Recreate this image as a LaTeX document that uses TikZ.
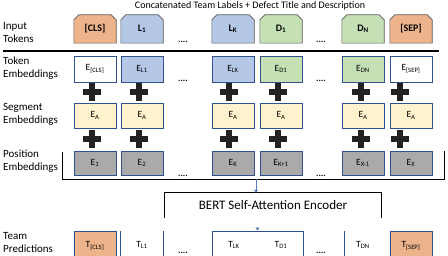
\documentclass[tikz,border=0pt]{standalone}
\usepackage{fontspec}
\setmainfont{Carlito}
\usetikzlibrary{backgrounds,arrows.meta}
\definecolor{cOrange}{HTML}{EDB48C}
\definecolor{cBlue}{HTML}{B4C7E7}
\definecolor{cGreen}{HTML}{C5E0B4}
\definecolor{cYellow}{HTML}{FFF2CC}
\definecolor{cGray}{HTML}{AAAAAA}
\definecolor{cBorder}{HTML}{2F528F}
\definecolor{cArrow}{HTML}{5B7BB5}
\definecolor{cPlus}{HTML}{222222}
\definecolor{cInEdge}{HTML}{595959}
\begin{document}
\begin{tikzpicture}[x=1pt,y=-1pt,
  lbl/.style={anchor=west,align=left,inner sep=0pt,font=\fontsize{11}{13}\selectfont},
  ebox/.style={minimum width=42pt,minimum height=26pt,inner sep=0pt,draw=cBorder,line width=0.8pt,font=\fontsize{9.5}{11}\selectfont},
  intok/.style={minimum width=42pt,minimum height=28pt,inner sep=0pt,font=\bfseries\fontsize{10}{11}\selectfont},
  dotsn/.style={inner sep=0pt,font=\bfseries\fontsize{9}{10}\selectfont},
  otxt/.style={inner sep=0pt,font=\fontsize{9.5}{11}\selectfont},
  arr/.style={draw=cArrow,line width=0.6pt,-{Triangle[length=3pt,width=4pt]}},
  vline/.style={draw=cBorder,line width=0.8pt}]
\useasboundingbox (0,0) rectangle (448,256);
\clip (0,0) rectangle (448,256);

% header
\node[inner sep=0pt,font=\fontsize{10}{12}\selectfont] (hdr) at (250,6) {Concatenated Team Labels + Defect Title and Description};

% row labels
\node[lbl] (lin) at (3,33) {Input\\Tokens};
\node[lbl] (ltok) at (3,68) {Token\\Embeddings};
\node[lbl] (lseg) at (3,114) {Segment\\Embeddings};
\node[lbl] (lpos) at (3,161) {Position\\Embeddings};
\node[lbl] (lout) at (3,243) {Team\\Predictions};

% columns
\foreach \x/\n/\itxt/\ifill/\ttxt/\tfill/\ptxt/\px in {
  95/c1/{[CLS]}/cOrange/{[CLS]}/white/{1}/92,
  142/c2/{L\textsubscript{1}}/cBlue/{L1}/cBlue/{2}/139,
  233/c3/{L\textsubscript{K}}/cBlue/{LK}/cBlue/{K}/229,
  281/c4/{D\textsubscript{1}}/cGreen/{D1}/cGreen/{K+1}/278,
  363/c5/{D\textsubscript{N}}/cGreen/{DN}/cGreen/{X-1}/361,
  411/c6/{[SEP]}/cOrange/{[SEP]}/white/{X}/400}{
  \node[intok] (in\n) at (\x,29) {\itxt};
  \begin{scope}[on background layer]
    \draw[fill=\ifill,draw=cInEdge,line width=0.6pt]
      (in\n.south west) -- ([yshift=-5pt]in\n.north west) -- ([xshift=5pt]in\n.north west)
      -- ([xshift=-5pt]in\n.north east) -- ([yshift=-5pt]in\n.north east) -- (in\n.south east) -- cycle;
  \end{scope}
  \node[ebox,fill=\tfill] (tok\n) at (\x,69) {E\textsubscript{\ttxt}};
  \node[ebox,fill=cYellow,minimum height=25pt,line width=0.5pt] (seg\n) at (\x,115.5) {E\textsubscript{A}};
  \node[ebox,fill=cGray,minimum height=24pt] (pos\n) at (\x,163) {E\textsubscript{\ptxt}};
  \fill[cPlus] ({\px-9},{92-3.4}) rectangle ({\px+9},{92+3.4});
  \fill[cPlus] ({\px-3.4},{92-9}) rectangle ({\px+3.4},{92+9});
  \fill[cPlus] ({\px-9},{139-3.4}) rectangle ({\px+9},{139+3.4});
  \fill[cPlus] ({\px-3.4},{139-9}) rectangle ({\px+3.4},{139+9});
}

% dots
\foreach \y/\k in {42/a,81/b,176/c,253/d}{
  \node[dotsn] (dl\k) at (183,\y) {....};
  \node[dotsn] (dr\k) at (321,\y) {....};
}

% separator line and bracket
\draw[line width=1.2pt] (3,51) -- (439,51);
\draw[line width=0.8pt] (62,152) -- (62,179) -- (444,179) -- (444,151);
\coordinate (brk) at (256,179);

% BERT encoder
\node[minimum width=216pt,minimum height=25pt,inner sep=0pt,font=\fontsize{13}{15}\selectfont] (bert) at (273,205.5) {BERT Self-Attention Encoder};
\draw[line width=0.8pt] (bert.south west) -- (bert.north west) -- (bert.north east) -- (bert.south east);
\draw[arr] (brk) -- (brk |- bert.north);

% outputs
\node[ebox,fill=cOrange,minimum height=30pt] (outc1) at (95,246) {T\textsubscript{[CLS]}};
\node[otxt] (outc2) at (142,245) {T\textsubscript{L1}};
\node[draw=cBorder,line width=0.8pt,minimum width=91pt,minimum height=30pt,inner sep=0pt] (outLD) at (257.5,246) {};
\node[otxt] (outc3) at (234,245) {T\textsubscript{LK}};
\node[otxt] (outc4) at (281,245) {T\textsubscript{D1}};
\node[otxt] (outc5) at (363,245) {T\textsubscript{DN}};
\node[ebox,fill=cOrange,minimum height=30pt] (outc6) at (411,246) {T\textsubscript{[SEP]}};
\draw[vline] (120,231) -- (120,258);
\draw[vline] (163,231) -- (163,258);
\draw[vline] (344,231) -- (344,258);
\draw[arr] ([yshift=3pt]outLD.north) -- (outLD.north);
\end{tikzpicture}
\end{document}
